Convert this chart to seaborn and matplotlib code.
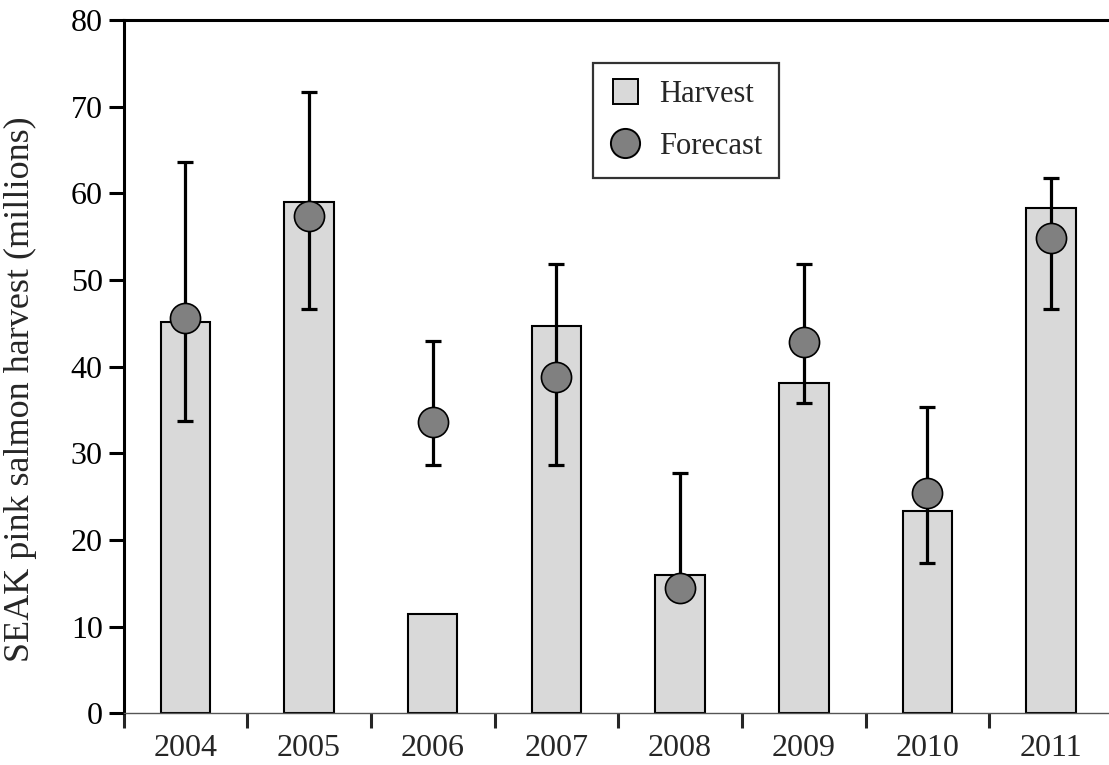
import numpy as np
import matplotlib
matplotlib.use("Agg")
import matplotlib.pyplot as plt
from matplotlib.lines import Line2D
import seaborn as sns

# --- data ---
years = ['2004', '2005', '2006', '2007', '2008', '2009', '2010', '2011']
harvest = [45.2, 59.0, 11.5, 44.7, 16.0, 38.1, 23.3, 58.3]
forecast = [45.6, 57.4, 33.6, 38.8, 14.5, 42.9, 25.4, 54.8]
fc_upper = [63.6, 71.7, 43.0, 51.8, 27.7, 51.8, 35.3, 61.8]
fc_lower = [33.7, 46.6, 28.6, 28.6, 13.5, 35.8, 17.3, 46.7]
y_ticks = [0, 10, 20, 30, 40, 50, 60, 70, 80]

sns.set_style("ticks")
plt.rcParams['font.family'] = ['Liberation Serif', 'DejaVu Serif']

W, H = 1109, 765
fig = plt.figure(figsize=(W / 100, H / 100), dpi=100)
# axes box in pixels: left spine x=123.5, top y=20, zero line y=713.3, 8 slots of ~123.7 px
ax = fig.add_axes([123.5 / W, (H - 713.3) / H, 989.5 / W, (713.3 - 20) / H])

pos = np.arange(len(years))

sns.barplot(x=years, y=harvest, color='#d9d9d9', saturation=1, width=0.40,
            edgecolor='black', linewidth=1.5, errorbar=None, ax=ax, zorder=2)

f = np.array(forecast)
yerr = [f - np.array(fc_lower), np.array(fc_upper) - f]
ax.errorbar(pos, f, yerr=yerr, fmt='none', ecolor='black', elinewidth=2.3,
            capsize=5.8, capthick=2.3, zorder=3)

sns.scatterplot(x=pos, y=forecast, s=470, color='#808080', edgecolor='black',
                linewidth=1.2, zorder=4, ax=ax)

ax.set_xlim(-0.5, 7.5)
ax.set_ylim(0, 80)
ax.set_yticks(y_ticks)
ax.set_yticklabels([str(t) for t in y_ticks], fontsize=23)

# tick marks on slot boundaries, labels at slot centres
ax.set_xticks(np.arange(-0.5, 8.0, 1.0))
ax.set_xticklabels([])
ax.set_xticks(pos, minor=True)
ax.set_xticklabels(years, minor=True, fontsize=23)
ax.tick_params(axis='x', which='major', direction='out', length=11, width=2.2)
ax.tick_params(axis='x', which='minor', length=0, pad=15)
ax.tick_params(axis='y', direction='out', length=11, width=2.2, pad=4, colors='black')
ax.set_xlabel('')

ax.set_ylabel('SEAK pink salmon harvest (millions)', fontsize=26)
ax.yaxis.set_label_coords(-0.087, 0.468)

for s in ['left', 'top']:
    ax.spines[s].set_visible(True)
    ax.spines[s].set_linewidth(2.2)
    ax.spines[s].set_color('black')
ax.spines['right'].set_visible(False)
ax.spines['bottom'].set_linewidth(1.0)
ax.spines['bottom'].set_color('#555555')

handles = [
    Line2D([], [], marker='s', ls='none', markersize=18, markerfacecolor='#d9d9d9',
           markeredgecolor='black', markeredgewidth=1.4),
    Line2D([], [], marker='o', ls='none', markersize=21, markerfacecolor='#808080',
           markeredgecolor='black', markeredgewidth=1.4),
]
leg = ax.legend(handles, ['Harvest', 'Forecast'], loc='upper left',
                bbox_to_anchor=(593 / W, 1 - 63 / H), bbox_transform=fig.transFigure,
                fontsize=22, frameon=True, fancybox=False, borderpad=0.55,
                labelspacing=0.75, handlelength=1.0, handletextpad=0.6,
                borderaxespad=0)
leg.get_frame().set_edgecolor('black')
leg.get_frame().set_linewidth(1.6)

fig.savefig('out.png', dpi=100)
